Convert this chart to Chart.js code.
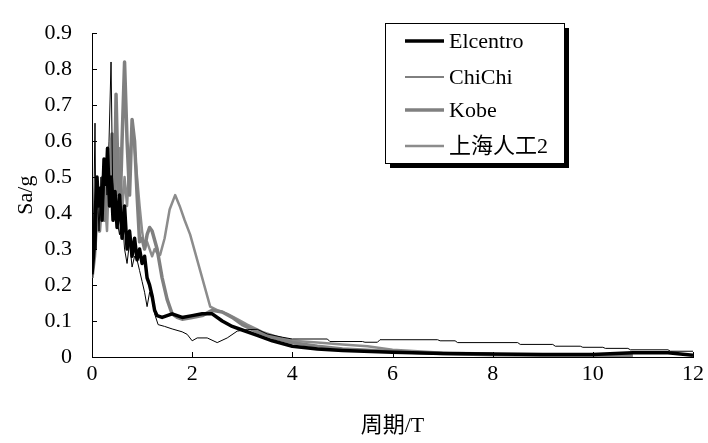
<!DOCTYPE html>
<html>
<head>
<meta charset="utf-8">
<script src="https://cdn.jsdelivr.net/npm/chart.js@4/dist/chart.umd.min.js"></script>
<style>
  html, body { margin: 0; padding: 0; background: #fff; }
  #wrap { width: 708px; height: 443px; position: relative; }
</style>
</head>
<body>
<div id="wrap"><canvas id="c" width="708" height="443"></canvas></div>
<script>
// Response spectra: period T (s) vs Sa/g
const elcentroT = [0,0.04,0.08,0.1,0.13,0.17,0.2,0.24,0.28,0.31,0.35,0.38,0.42,0.46,0.5,0.55,0.6,0.65,0.7,0.75,0.8,0.85,0.9,0.95,1.0,1.05,1.1,1.15,1.2,1.25,1.3,1.4,1.5,1.6,1.8,2.0,2.2,2.4,2.6,2.8,3.0,3.3,3.6,4.0,4.5,5,6,7,8,9,10,10.8,11.5,12];
const elcentroSa = [0.23,0.3,0.45,0.5,0.42,0.47,0.38,0.55,0.48,0.58,0.42,0.5,0.38,0.46,0.36,0.45,0.33,0.42,0.3,0.35,0.28,0.33,0.27,0.3,0.26,0.28,0.22,0.2,0.17,0.13,0.115,0.11,0.115,0.12,0.11,0.115,0.12,0.12,0.1,0.085,0.075,0.06,0.045,0.03,0.022,0.018,0.013,0.01,0.008,0.007,0.007,0.012,0.012,0.005];

const chichiT = [0,0.03,0.06,0.08,0.11,0.14,0.18,0.22,0.26,0.3,0.34,0.38,0.41,0.45,0.5,0.55,0.6,0.65,0.7,0.75,0.8,0.85,0.9,0.95,1.0,1.05,1.1,1.15,1.2,1.25,1.32,1.45,1.6,1.8,1.9,2.0,2.1,2.3,2.5,2.7,2.9,3.1,3.3,3.5,3.8,4.0,4.7,4.75,5.4,5.45,5.7,5.75,6.9,6.95,7.25,7.3,8.5,8.55,9.2,9.25,9.75,9.8,10.2,10.25,10.7,10.75,11.5,11.55,12];
const chichiSa = [0.22,0.35,0.65,0.3,0.45,0.35,0.5,0.4,0.55,0.45,0.6,0.82,0.5,0.42,0.38,0.34,0.4,0.3,0.26,0.32,0.25,0.28,0.27,0.24,0.21,0.18,0.14,0.18,0.16,0.12,0.09,0.085,0.078,0.07,0.063,0.045,0.053,0.053,0.04,0.053,0.072,0.076,0.077,0.064,0.055,0.05,0.05,0.043,0.043,0.041,0.041,0.048,0.048,0.045,0.045,0.04,0.04,0.035,0.035,0.03,0.03,0.027,0.027,0.024,0.024,0.02,0.02,0.016,0.016];

const kobeT = [0,0.05,0.1,0.15,0.2,0.25,0.3,0.35,0.4,0.45,0.48,0.52,0.56,0.6,0.65,0.7,0.75,0.8,0.85,0.9,0.95,1.0,1.05,1.1,1.15,1.2,1.3,1.4,1.5,1.6,1.7,1.8,2.0,2.2,2.4,2.6,2.8,3.0,3.3,3.6,4.0,4.5,5,6,7,8,9,10,10.8];
const kobeSa = [0.22,0.28,0.4,0.35,0.45,0.38,0.55,0.5,0.62,0.45,0.73,0.5,0.4,0.6,0.82,0.6,0.45,0.66,0.6,0.45,0.32,0.33,0.3,0.34,0.36,0.35,0.3,0.22,0.16,0.12,0.11,0.105,0.11,0.115,0.13,0.125,0.11,0.09,0.07,0.055,0.04,0.03,0.022,0.015,0.01,0.006,0.005,0.005,0.004];

const shanghaiT = [0,0.05,0.1,0.15,0.2,0.25,0.3,0.35,0.4,0.45,0.5,0.55,0.6,0.65,0.7,0.75,0.8,0.85,0.9,0.95,1.0,1.05,1.1,1.15,1.2,1.25,1.3,1.36,1.45,1.55,1.66,1.75,1.85,1.96,2.06,2.16,2.26,2.36,2.5,2.7,2.9,3.1,3.4,3.7,4.0,4.5,5,5.5,6,7,8];
const shanghaiSa = [0.22,0.3,0.45,0.4,0.5,0.45,0.35,0.55,0.5,0.6,0.45,0.58,0.4,0.5,0.42,0.55,0.62,0.58,0.5,0.42,0.35,0.3,0.32,0.3,0.28,0.3,0.29,0.284,0.33,0.41,0.45,0.42,0.38,0.34,0.29,0.24,0.19,0.14,0.13,0.12,0.105,0.09,0.07,0.056,0.045,0.04,0.035,0.03,0.02,0.012,0.01];

const seriesNames = ['Elcentro', 'ChiChi', 'Kobe', '上海人工2'];
const xTicks = [0, 2, 4, 6, 8, 10, 12];
const yTicks = [0, 0.1, 0.2, 0.3, 0.4, 0.5, 0.6, 0.7, 0.8, 0.9];

const FONT = '"Liberation Serif", "Noto Sans CJK SC", serif';
const FSIZE = 22;

function pts(xs, ys) { return xs.map((x, i) => ({ x: x, y: ys[i] })); }

// Inward tick marks on both axes
const innerTicks = {
  id: 'innerTicks',
  afterDatasetsDraw(chart) {
    const { ctx, scales: { x, y } } = chart;
    ctx.save();
    ctx.strokeStyle = '#000';
    ctx.lineWidth = 1;
    ctx.beginPath();
    yTicks.forEach(v => {
      if (v === 0) return;
      const py = Math.round(y.getPixelForValue(v)) + 0.5;
      ctx.moveTo(x.left, py); ctx.lineTo(x.left + 5, py);
    });
    xTicks.forEach(v => {
      if (v === 0) return;
      const px = Math.round(x.getPixelForValue(v)) + 0.5;
      ctx.moveTo(px, y.bottom); ctx.lineTo(px, y.bottom - 5);
    });
    ctx.stroke();
    ctx.restore();
  }
};

// Boxed legend with drop shadow
const boxLegend = {
  id: 'boxLegend',
  afterDraw(chart) {
    const { ctx } = chart;
    const bx = 385, by = 23, bw = 179, bh = 140;
    ctx.save();
    ctx.fillStyle = '#000';
    ctx.fillRect(bx + 5, by + 5, bw, bh);
    ctx.fillStyle = '#fff';
    ctx.fillRect(bx, by, bw, bh);
    ctx.strokeStyle = '#000';
    ctx.lineWidth = 1;
    ctx.strokeRect(bx + 0.5, by + 0.5, bw, bh);
    const rows = [41, 77, 110, 146];
    chart.data.datasets.forEach((ds, i) => {
      const ry = rows[i];
      ctx.strokeStyle = ds.borderColor;
      ctx.lineWidth = ds.borderWidth;
      ctx.beginPath();
      ctx.moveTo(405, ry); ctx.lineTo(444, ry);
      ctx.stroke();
      ctx.fillStyle = '#000';
      ctx.font = FSIZE + 'px ' + FONT;
      ctx.textBaseline = 'middle';
      ctx.textAlign = 'left';
      ctx.fillText(ds.label, 449, ry + 1);
    });
    ctx.restore();
  }
};

new Chart(document.getElementById('c'), {
  type: 'line',
  data: {
    datasets: [
      { label: seriesNames[0], data: pts(elcentroT, elcentroSa), borderColor: '#000000', borderWidth: 3.5 },
      { label: seriesNames[1], data: pts(chichiT, chichiSa), borderColor: '#000000', borderWidth: 1 },
      { label: seriesNames[2], data: pts(kobeT, kobeSa), borderColor: '#808080', borderWidth: 3.5 },
      { label: seriesNames[3], data: pts(shanghaiT, shanghaiSa), borderColor: '#8c8c8c', borderWidth: 2.5 }
    ]
  },
  options: {
    responsive: false,
    animation: false,
    devicePixelRatio: 1,
    elements: { point: { radius: 0 }, line: { tension: 0, borderJoinStyle: 'round' } },
    layout: { padding: { top: 17, right: 15, left: 0, bottom: 0 } },
    plugins: { legend: { display: false }, tooltip: { enabled: false } },
    scales: {
      x: {
        type: 'linear', min: 0, max: 12,
        afterBuildTicks: s => { s.ticks = xTicks.map(v => ({ value: v })); },
        afterFit: s => { s.height = 86; },
        grid: { display: false, drawTicks: false },
        border: { display: true, color: '#000', width: 1 },
        ticks: { color: '#000', padding: 4, maxRotation: 0, font: { family: FONT, size: FSIZE } },
        title: { display: true, text: '周期/T', color: '#000', padding: { top: 20 }, font: { family: FONT, size: FSIZE } }
      },
      y: {
        type: 'linear', min: 0, max: 0.9,
        afterBuildTicks: s => { s.ticks = yTicks.map(v => ({ value: v })); },
        afterFit: s => { s.width = 92; },
        grid: { display: false, drawTicks: false },
        border: { display: true, color: '#000', width: 1 },
        ticks: { color: '#000', padding: 20, font: { family: FONT, size: FSIZE },
                 callback: v => (v === 0 ? '0' : v.toFixed(1)) },
        title: { display: true, text: 'Sa/g', color: '#000', padding: { top: 13, bottom: 0 }, font: { family: FONT, size: FSIZE } }
      }
    }
  },
  plugins: [innerTicks, boxLegend]
});
</script>
</body>
</html>
